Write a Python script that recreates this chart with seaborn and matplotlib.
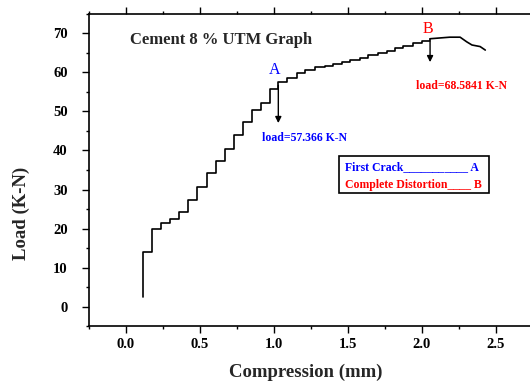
import matplotlib
matplotlib.use("Agg")
import matplotlib.pyplot as plt
from matplotlib.patches import Rectangle
from matplotlib.ticker import MultipleLocator
import seaborn as sns
import pandas as pd

# Stepped loading part (compression in mm, load in K-N)
step_compression = [0.120, 0.120, 0.181, 0.240, 0.301, 0.364, 0.424, 0.485, 0.549,
                    0.611, 0.672, 0.733, 0.796, 0.853, 0.914, 0.976, 1.032, 1.089,
                    1.157, 1.213, 1.280, 1.348, 1.404, 1.461, 1.517, 1.584, 1.641,
                    1.708, 1.765, 1.821, 1.877, 1.945, 2.001, 2.057]
step_load = [2.6, 14.1, 19.8, 21.3, 22.4, 24.3, 27.3, 30.6, 34.1,
             37.3, 40.3, 44.0, 47.4, 50.4, 52.2, 55.7, 57.4, 58.5,
             59.8, 60.6, 61.3, 61.7, 62.1, 62.7, 63.2, 63.7, 64.4,
             64.9, 65.5, 66.2, 66.7, 67.4, 68.1, 68.6]

# Post-peak part
tail_compression = [2.057, 2.190, 2.260, 2.305, 2.340, 2.395, 2.430]
tail_load = [68.6, 69.0, 69.0, 67.8, 67.0, 66.6, 65.7]

# Marked points
first_crack = (1.032, 57.366)
distortion = (2.057, 68.5841)

sns.set_style("ticks")
plt.rcParams['font.family'] = ['Liberation Serif', 'DejaVu Serif']

fig = plt.figure(figsize=(5.30, 3.83), dpi=100)
ax = fig.add_axes([0.167, 0.1483, 0.852, 0.8158])

df_step = pd.DataFrame({'x': step_compression, 'y': step_load})
df_tail = pd.DataFrame({'x': tail_compression, 'y': tail_load})
sns.lineplot(data=df_step, x='x', y='y', ax=ax, color='black', lw=1.2,
             estimator=None, sort=False, drawstyle='steps-post')
sns.lineplot(data=df_tail, x='x', y='y', ax=ax, color='black', lw=1.2,
             estimator=None, sort=False)

ax.set_xlim(-0.25, 2.8)
ax.set_ylim(-5, 75)
ax.xaxis.set_major_locator(MultipleLocator(0.5))
ax.xaxis.set_minor_locator(MultipleLocator(0.25))
ax.yaxis.set_major_locator(MultipleLocator(10))
ax.yaxis.set_minor_locator(MultipleLocator(5))
ax.tick_params(which='both', direction='out', top=True, right=False,
               labeltop=False, width=1.0, colors='black')
ax.tick_params(which='major', length=5, labelsize=10.5)
ax.tick_params(which='minor', length=2.5)
ax.tick_params(axis='y', which='major', pad=10)
for lab in ax.get_xticklabels() + ax.get_yticklabels():
    lab.set_fontweight('bold')
for side in ['left', 'bottom', 'top']:
    ax.spines[side].set_visible(True)
    ax.spines[side].set_linewidth(1.2)
    ax.spines[side].set_color('black')
ax.spines['right'].set_visible(False)

ax.set_xlabel('Compression (mm)', fontsize=13.5, fontweight='bold')
ax.set_ylabel('Load (K-N)', fontsize=13.5, fontweight='bold')
ax.xaxis.set_label_coords(0.482, -0.121)
ax.yaxis.set_label_coords(-0.130, 0.362)

ax.text(0.03, 68.3, 'Cement 8 % UTM Graph', fontsize=12, fontweight='bold',
        va='center', ha='left')

# First crack annotation
ax.text(1.010, 60.6, 'A', color='blue', fontsize=11.5, ha='center', va='center')
ax.annotate('', xy=(first_crack[0], 46.3), xytext=(first_crack[0], first_crack[1]),
            arrowprops=dict(arrowstyle='-|>', color='black', lw=1.0, mutation_scale=9))
ax.text(0.922, 43.2, f'load={first_crack[1]} K-N', color='blue', fontsize=8.5,
        fontweight='bold', ha='left', va='center')

# Complete distortion annotation
ax.text(2.044, 71.0, 'B', color='red', fontsize=11.5, ha='center', va='center')
ax.annotate('', xy=(distortion[0], 61.9), xytext=(distortion[0], distortion[1]),
            arrowprops=dict(arrowstyle='-|>', color='black', lw=1.0, mutation_scale=9))
ax.text(1.963, 56.6, f'load={distortion[1]} K-N', color='red', fontsize=8.5,
        fontweight='bold', ha='left', va='center')

# Key box
ax.add_patch(Rectangle((1.445, 29.2), 2.456 - 1.445, 38.7 - 29.2, fill=False,
                       edgecolor='black', lw=1.2))
ax.text(1.483, 35.7, 'First Crack___________ A', color='blue', fontsize=8.5,
        fontweight='bold', ha='left', va='center')
ax.text(1.483, 31.2, 'Complete Distortion____ B', color='red', fontsize=8.5,
        fontweight='bold', ha='left', va='center')

fig.savefig('out.png', dpi=100)
